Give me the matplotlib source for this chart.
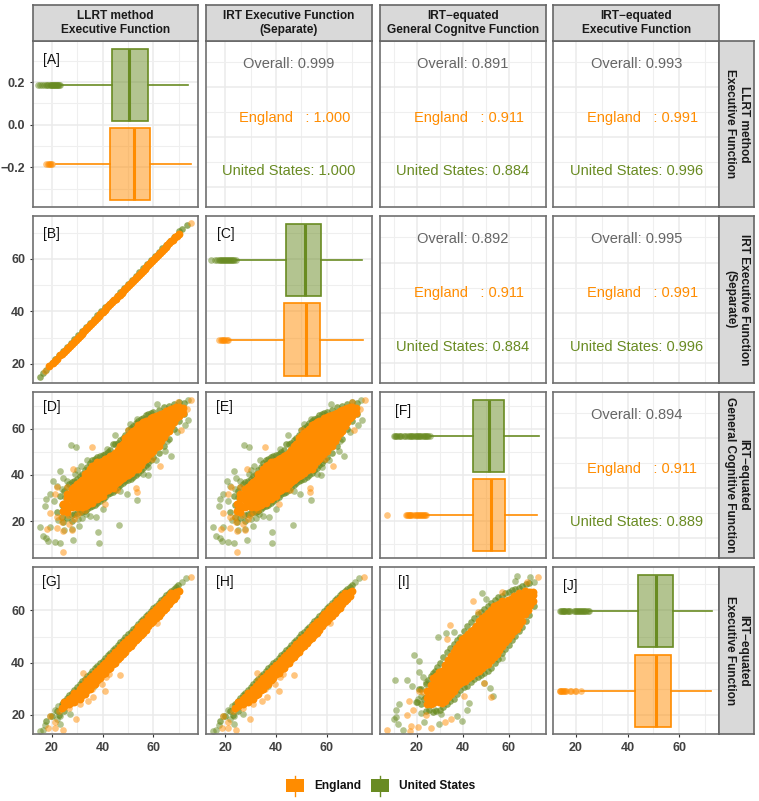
import numpy as np
import matplotlib
matplotlib.use("Agg")
import matplotlib.pyplot as plt
from matplotlib.colors import to_rgba
from matplotlib.patches import Rectangle

plt.rcParams['font.family'] = ['Liberation Sans', 'DejaVu Sans']

ENG = '#FF8C00'
US = '#698B22'

col_titles = ['LLRT method\nExecutive Function', 'IRT Executive Function\n(Separate)',
              'IRT\u2212equated\nGeneral Cognitve Function', 'IRT\u2212equated\nExecutive Function']
row_titles = ['LLRT method\nExecutive Function', 'IRT Executive Function\n(Separate)',
              'IRT\u2212equated\nGeneral Cognitive Function', 'IRT\u2212equated\nExecutive Function']

# correlations: (row, col) -> overall, england, united states
corr = {(0, 1): ['0.999', '1.000', '1.000'],
        (0, 2): ['0.891', '0.911', '0.884'],
        (0, 3): ['0.993', '0.991', '0.996'],
        (1, 2): ['0.892', '0.911', '0.884'],
        (1, 3): ['0.995', '0.991', '0.996'],
        (2, 3): ['0.894', '0.911', '0.889']}

# boxplots: low whisker, q1, median, q3, high whisker, outliers
box_a_us = [22.6, 43.6, 50.4, 57.7, 73.7, [14.8, 15.6, 16.4, 17.2, 18, 18.4, 18.8, 19.2, 19.6, 19.9, 20.2, 20.5, 20.8, 21.1, 21.4, 21.7, 22, 22.3, 22.6, 23, 23.3]]
box_a_eng = [21.7, 42.9, 52.2, 58.5, 74.8, [17.8, 18.5, 18.9, 19.2, 19.6, 20]]
box_c_us = [24.2, 43.9, 51.2, 57.7, 73.7, [14.5, 16, 16.8, 17.6, 18, 18.4, 18.8, 19.2, 19.6, 20, 20.4, 20.8, 21.2, 21.6, 22, 22.4, 22.8, 23.2, 23.6, 24.2]]
box_c_eng = [21.7, 43, 51.6, 57.4, 74, [17.4, 18.2, 18.6, 19, 19.4, 19.8, 20.8, 21.3]]
box_f_us = [25.6, 44.5, 51.5, 57.8, 73.1, [10.2, 10.6, 11, 11.5, 12, 12.5, 13, 14.5, 15, 15.5, 16.5, 17, 17.5, 18, 18.5, 19, 19.5, 20, 20.5, 21, 21.5, 22, 22.5, 23, 23.5, 24, 24.5, 25, 25.6]]
box_f_eng = [24.1, 44.3, 52.2, 58.5, 72.4, [6.8, 15.3, 15.7, 16, 16.4, 16.8, 17.2, 17.6, 18.2, 19.4, 19.8, 20.2, 20.6, 21, 21.4, 21.8, 22.2, 22.6, 23, 23.4, 24.1]]
box_j_us = [25.2, 44, 51.2, 57.5, 72.6, [13.7, 14.1, 14.5, 14.9, 15.3, 15.6, 16, 16.5, 17, 17.4, 17.8, 19.2, 19.6, 20, 20.4, 20.8, 21.2, 21.6, 22, 22.4, 22.8, 23.2, 23.6, 24, 24.6, 25.2]]
box_j_eng = [21.9, 42.8, 51, 56.9, 72.4, [13.7, 14, 14.3, 14.6, 15, 15.3, 15.7, 16.4, 17.8, 18.2, 19.6, 20.2, 21.9]]

# panel B, one ridge along the diagonal
b_eng_x = [19, 20.5, 22, 23.5, 25, 26.5, 28, 29.5, 31, 32.5, 34, 35.5, 37, 38.5, 40, 41.5, 43, 44.5,
           46, 47.5, 49, 50.5, 52, 53.5, 55, 56.5, 58, 59.5, 61, 62.5, 64, 65.5, 67, 68.5, 70]
b_eng_y = [19, 20.2, 21.8, 23.2, 24.7, 26.2, 27.7, 29.2, 30.7, 32.2, 33.6, 35.2, 36.7, 38.2, 39.7, 41.2, 42.7, 44.2,
           45.7, 47.2, 48.7, 50.2, 51.7, 53.2, 54.7, 56.2, 57.7, 59.2, 60.7, 62.2, 63.7, 65.2, 66.7, 68.2, 69.6]
b_eng_x2 = [21.2, 24.2, 25.8, 27.2, 28.8, 30.2, 31.8, 33.2, 34.8, 36.2, 37.8, 39.2, 40.8, 42.2, 43.8, 45.2, 46.8,
            48.2, 49.8, 51.2, 52.8, 54.2, 55.8, 57.2, 58.8, 60.2, 61.8, 63.2, 64.8, 66.2, 67.8, 69.2]
b_eng_y2 = [20.9, 23.9, 25.4, 26.9, 28.4, 29.9, 31.4, 32.9, 34.4, 35.9, 37.4, 38.9, 40.4, 41.9, 43.4, 44.9, 46.4,
            47.9, 49.4, 50.9, 52.4, 53.9, 55.4, 56.9, 58.4, 59.9, 61.4, 62.9, 64.4, 65.9, 67.4, 68.9]
b_us_x = [15.4, 16.5, 17.8, 20, 21.5, 23, 24.5, 26, 27.5, 29, 30.5, 32, 33.5, 35, 36.5, 38, 39.5, 41, 42.5, 44, 45.5, 47, 48.5, 50,
          51.5, 53, 54.5, 56, 57.5, 59, 60.5, 62, 63.5, 65, 66.5, 68, 70, 71.2, 73]
b_us_y = [14.9, 16.4, 17.5, 20.3, 21.9, 23.4, 25, 26.5, 28, 29.5, 31, 32.5, 34, 35.5, 37, 38.5, 40, 41.5, 43, 44.5, 46, 47.5, 49, 50.5,
          52, 53.5, 55, 56.5, 58, 59.5, 61, 62.5, 64, 65.5, 67, 68.5, 70.6, 71.3, 72.8]
b_eng_far_x = [74.6, 17.6]
b_eng_far_y = [73.7, 17.2]

# panels D and E: England mass, one column of y values per x
d_eng_core = {24.5: [24.5, 27.5], 26: [24, 27, 30, 32], 28: [26, 29, 32, 34], 29: [27, 30, 33, 35],
              30: [26, 28.5, 31, 33.5, 36], 31: [27, 29.5, 32, 34.5, 37], 32: [26, 28.5, 31, 33.5, 36, 38],
              33: [26.5, 29, 31.5, 34, 36.5, 39, 40.5], 34: [27, 29.5, 32, 34.5, 37, 39.5, 41],
              35: [28, 30.5, 33, 35.5, 38, 40.5, 42.5], 36: [28, 30.5, 33, 35.5, 38, 40.5, 43, 44],
              37: [29.5, 32, 34.5, 37, 39.5, 42, 44.5], 38: [29.5, 32, 34.5, 37, 39.5, 42, 44.5, 45.5],
              39: [30.5, 33, 35.5, 38, 40.5, 43, 45.5], 40: [31, 33.5, 36, 38.5, 41, 43.5, 46],
              41: [33, 35.5, 38, 40.5, 43, 45.5, 47], 42: [33.5, 36, 38.5, 41, 43.5, 46, 47.5],
              43: [34.5, 37, 39.5, 42, 44.5, 47, 48], 44: [34.5, 37, 39.5, 42, 44.5, 47, 48.5],
              45: [36, 38.5, 41, 43.5, 46, 48.5, 49.5], 46: [37, 39.5, 42, 44.5, 47, 49.5, 51],
              47: [38, 40.5, 43, 45.5, 48, 50.5, 52.5], 48: [38.5, 41, 43.5, 46, 48.5, 51, 53.5],
              49: [39.5, 42, 44.5, 47, 49.5, 52, 54.5, 56], 50: [40, 42.5, 45, 47.5, 50, 52.5, 55, 57],
              51: [41, 43.5, 46, 48.5, 51, 53.5, 56, 58], 52: [42, 44.5, 47, 49.5, 52, 54.5, 57, 59],
              53: [42.5, 45, 47.5, 50, 52.5, 55, 57.5, 60], 54: [42.5, 45, 47.5, 50, 52.5, 55, 57.5, 60, 61.5],
              55: [44.5, 47, 49.5, 52, 54.5, 57, 59.5, 62], 56: [46, 48.5, 51, 53.5, 56, 58.5, 61, 63],
              57: [47, 49.5, 52, 54.5, 57, 59.5, 62, 63.5], 58: [48.5, 51, 53.5, 56, 58.5, 61, 63.5],
              59: [49.5, 52, 54.5, 57, 59.5, 62, 64.5], 60: [50.5, 53, 55.5, 58, 60.5, 63, 65],
              61: [52, 54.5, 57, 59.5, 62, 64.5, 65.5], 62: [52.5, 55, 57.5, 60, 62.5, 65, 66],
              63: [54.5, 57, 59.5, 62, 64.5, 66.5], 64: [56.5, 59, 61.5, 64, 66.5, 67],
              65: [58, 60.5, 63, 65.5, 67.5], 66: [59, 61.5, 64, 66.5, 68], 67: [61, 63.5, 66, 68.5],
              68: [63, 65.5, 68, 69], 69: [64.5, 67, 69.5], 70: [65.5, 68, 69.5], 71.5: [67, 69]}
d_us_edge = [(26, 35), (27, 36), (28, 37), (29, 37.5), (30, 38.3), (31, 39.5), (32, 40.3), (33, 42), (34, 43.3), (35, 45), (36, 46.3),
             (37, 47), (38, 47.8), (39, 48.2), (40, 48.8), (41, 49.2), (42, 49.8), (43, 51), (44, 53.3), (45, 53.5), (46, 53.8), (47, 55),
             (48, 55.8), (49, 57.5), (50, 59.3), (51, 60.3), (52, 61.3), (53, 62.5), (54, 63.3), (55, 64), (56, 64.8), (57, 65.8),
             (58, 66.3), (59, 66.8), (60, 67.3), (62, 68.3), (64, 69.3), (66, 69.8), (68, 70.5), (70, 71.5), (72, 71),
             (26, 21.5), (28, 22.7), (29, 23.2), (30, 23.7), (31, 23.8), (32, 24.2), (33, 24.6), (34, 25.2), (35, 26), (36, 26.7), (37, 27.2),
             (38, 27.7), (39, 28.6), (40, 29.7), (41, 30.7), (42, 31.7), (43, 32.2), (44, 32.7), (45, 33.7), (46, 34.7), (47, 35.7),
             (48, 36.7), (49, 37.2), (50, 37.7), (51, 38.4), (52, 39.2), (53, 39.9), (54, 40.7), (55, 42), (56, 43.2), (57, 44.2),
             (58, 45.2), (59, 46.5), (60, 47.7), (62, 49.7), (64, 52.7), (66, 55.7), (68, 59.7), (70, 63.2), (72, 66.5),
             (24, 22), (25, 26), (26, 30), (24, 27), (26, 24), (22, 24), (28, 20), (24.6, 19.6), (23.5, 31), (25, 33)]
d_us_far = [(27.6, 52.8), (29.4, 51.9), (31.5, 44.1), (23.4, 41.6), (24.3, 38.8), (20.7, 37.6), (22, 35.4), (19.3, 31.8),
            (18, 29.5), (21, 28.7), (17.4, 26.5), (15.4, 17.7), (16.5, 13.8), (18.7, 11.6), (21.3, 10.9), (23.3, 10.5),
            (28.5, 11.9), (38.3, 15.5), (38.6, 10.6), (46.6, 18.6), (33.5, 23.2), (37.4, 21.7), (30.9, 18.1), (27.9, 16.7),
            (49.5, 31.8), (53.7, 29.2), (57.7, 39.8), (66.8, 48.4), (64.6, 50.2), (73.7, 63.6), (72.4, 61.4), (73.5, 72.5),
            (61.5, 70.8), (50.8, 62.1), (53.7, 64.3), (44.9, 57.1), (41.6, 51.3), (33.8, 46.3), (29.2, 40.5), (65.2, 54.9),
            (69.1, 58.5), (25.9, 24.6), (25.2, 30.4), (19.2, 17.4), (17.9, 12.6), (22.6, 20.4), (25, 16.4), (30.3, 20.8),
            (35, 22.2), (32, 21.5), (40, 25.5), (58, 43.5), (61, 46.5), (56, 40.5), (47, 33), (30, 42), (26, 37.5), (24, 34)]
d_eng_far = [(28.5, 42.7), (35.7, 52), (22.2, 34.7), (21.3, 32), (19.3, 23.6), (22, 21.7), (18.3, 16.7), (22, 17.1),
             (24.6, 16), (27.9, 16.2), (24.6, 6.7), (26.6, 22.5), (23.9, 21.7), (41, 27.5), (45.6, 33.7), (53.2, 34.4),
             (53.4, 32.6), (62.5, 44.1), (59.3, 47), (70.7, 59.5), (73.1, 68.6), (74.9, 72.2), (69.8, 71.5), (50.1, 59.5),
             (29.2, 26.8), (29.8, 22.5), (26, 35), (25, 28), (27, 19), (29, 21), (24.2, 19.8), (31, 24.2), (33, 25)]

# panels G and H
g_eng_core = {24: [22.8], 25: [23.5, 25], 26: [24.4], 27: [24, 26], 28: [25, 27], 29: [25, 27, 28.5], 30: [26.5, 28.5],
              31: [26, 28, 30], 32: [27.5, 29.5, 31], 33: [28, 30, 32], 34: [29.5, 31.5, 33], 35: [30, 32, 34], 36: [31.5, 33.5, 35],
              37: [32, 34, 36], 38: [33.5, 35.5, 37], 39: [34, 36, 38], 40: [35.5, 37.5, 39], 41: [36, 38, 40], 42: [37.5, 39.5, 41],
              43: [38, 40, 42], 44: [39.5, 41.5, 43], 45: [40, 42, 44], 46: [41.5, 43.5, 45], 47: [42, 44, 46], 48: [43.5, 45.5, 47],
              49: [44, 46, 48], 50: [45.5, 47.5, 49], 51: [46.5, 48.5, 50], 52: [47.5, 49.5, 51], 53: [48.5, 50.5, 52], 54: [49.5, 51.5, 53.5],
              55: [50.5, 52.5, 54.5], 56: [51.5, 53.5, 55.5], 57: [52.5, 54.5, 56], 58: [54, 56, 57.5], 59: [55, 57, 58.5], 60: [56, 58, 59.5],
              61: [57, 59, 60.5], 62: [58, 60, 61.5], 63: [59, 61, 62.5], 64: [60, 62, 63.5], 65: [61, 63, 64.5], 66: [62.5, 64, 65.5],
              67: [63.5, 65, 66.5], 68: [64.5, 66], 69: [65.5, 67], 70: [67.5]}
g_us_edge = [(18, 17.5), (20, 19.5), (22, 21.5), (24, 24), (25, 25.3), (26, 26.5), (27, 27.5), (28, 28.5), (29, 29.6), (30, 30.7), (31, 31.7), (32, 32.8),
             (33, 33.8), (34, 34.8), (35, 35.8), (36, 36.8), (37, 37.8), (38, 38.8), (39, 39.8), (40, 40.8), (41, 41.8), (42, 42.8),
             (43, 43.8), (44, 44.8), (45, 45.8), (46, 46.8), (47, 47.8), (48, 48.8), (49, 49.8), (50, 50.8), (51, 51.8), (52, 52.8),
             (53, 53.8), (54, 54.8), (55, 55.8), (56, 56.8), (57, 57.8), (58, 58.8), (59, 59.8), (60, 60.8), (61, 61.8), (62, 62.8),
             (63, 63.8), (64, 64.8), (65, 65.8), (66, 66.8), (67, 67.5), (68, 68.3), (69, 69), (69.8, 69.8), (38.3, 33.2), (53.4, 49.2),
             (23, 20), (25, 21.5)]
g_us_far = [(15.4, 14), (17.4, 16.2), (16.5, 14.4), (19.3, 19.7), (21.3, 21.7), (22.6, 23.3), (23.3, 19.7), (27.2, 20.4),
            (23.5, 16.5), (72.8, 72.3), (71.1, 71), (36.8, 31.2), (24.5, 24.5), (22, 18.6)]
g_eng_far = [(74.6, 72.6), (46.9, 35.1), (61.3, 55.3), (41, 29), (42.7, 35.8), (41.4, 34.5), (32.5, 36.2), (33.1, 33.2),
             (36.4, 26.8), (34.4, 25.5), (31.1, 24.2), (35.7, 30), (29.6, 18.5), (24.3, 14.2), (21.3, 14.9), (18.7, 14.9),
             (21.3, 17.4), (19.3, 19.7), (39.7, 31.9), (38.3, 35.1), (42.3, 37.7), (23, 21.4), (27, 22.6)]

# panel I
i_eng_core = {24.5: [24, 26.5, 29], 26: [24, 26.5, 29, 31.5], 27.25: [24.5, 27, 29.5, 32, 34], 28.5: [25.5, 28, 30.5, 33, 35],
              29.75: [25, 27.5, 30, 32.5, 35, 36.5], 31: [24.5, 27, 29.5, 32, 34.5, 37], 32.25: [25.5, 28, 30.5, 33, 35.5, 38, 39],
              33.5: [27, 29.5, 32, 34.5, 37, 39.5, 41], 34.75: [28, 30.5, 33, 35.5, 38, 40.5, 42.5], 36: [29, 31.5, 34, 36.5, 39, 41.5, 44],
              37.25: [30.5, 33, 35.5, 38, 40.5, 43, 45.5], 38.5: [32, 34.5, 37, 39.5, 42, 44.5, 47], 39.75: [32.5, 35, 37.5, 40, 42.5, 45, 47.5, 49],
              41: [33, 35.5, 38, 40.5, 43, 45.5, 48, 50], 42.25: [34, 36.5, 39, 41.5, 44, 46.5, 49, 51], 43.5: [35, 37.5, 40, 42.5, 45, 47.5, 50, 52],
              44.75: [36, 38.5, 41, 43.5, 46, 48.5, 51, 53], 46: [36.5, 39, 41.5, 44, 46.5, 49, 51.5, 54], 47.25: [37, 39.5, 42, 44.5, 47, 49.5, 52, 54.5, 56],
              48.5: [38, 40.5, 43, 45.5, 48, 50.5, 53, 55.5, 57], 49.75: [39, 41.5, 44, 46.5, 49, 51.5, 54, 56.5, 58],
              51: [39.5, 42, 44.5, 47, 49.5, 52, 54.5, 57, 59], 52.25: [41, 43.5, 46, 48.5, 51, 53.5, 56, 58.5, 60],
              53.5: [42, 44.5, 47, 49.5, 52, 54.5, 57, 59.5, 61.5], 54.75: [43.5, 46, 48.5, 51, 53.5, 56, 58.5, 61, 62],
              56: [45, 47.5, 50, 52.5, 55, 57.5, 60, 62.5], 57.25: [46.5, 49, 51.5, 54, 56.5, 59, 61.5, 63.5],
              58.5: [48, 50.5, 53, 55.5, 58, 60.5, 63], 59.75: [49, 51.5, 54, 56.5, 59, 61.5, 64], 61: [50.5, 53, 55.5, 58, 60.5, 63, 64.5],
              62.25: [52, 54.5, 57, 59.5, 62, 64.5, 65.5], 63.5: [53, 55.5, 58, 60.5, 63, 65.5], 64.75: [54.5, 57, 59.5, 62, 64.5, 66.5],
              66: [56, 58.5, 61, 63.5, 66], 67.25: [58.5, 61, 63.5, 66, 67.5], 68.5: [60, 62.5, 65, 67], 69.5: [62, 64.5, 67], 70.5: [63.5, 66, 67]}
i_us_edge = [(22, 30), (24, 32), (25, 33.5), (26, 35), (27, 36), (28, 37), (29, 38.5), (30, 40), (31.5, 42), (33, 44), (34.5, 45.5), (36, 47), (37.5, 48.5), (39, 50),
             (40.5, 52), (42, 54), (43.5, 55.5), (45, 57), (46.5, 58.5), (48, 59.5), (49.5, 60.5), (51, 61.5), (52.5, 63), (54, 64), (55.5, 65), (57, 65.7),
             (58.5, 66.5), (60, 67), (61.5, 67.7), (63, 68.2), (64.5, 68.7), (66, 69.3), (67.5, 70), (69, 70.3),
             (24, 21.5), (25.5, 21.7), (27, 21.3), (28.5, 21.5), (30, 21.7), (31.5, 23), (33, 24), (34.5, 25.3), (36, 26.2), (37.5, 28), (39, 29.7),
             (40.5, 30.5), (42, 31.2), (43.5, 32.5), (45, 33.7), (46.5, 34.5), (48, 35.2), (49.5, 36), (51, 36.7), (52.5, 38), (54, 39.7),
             (55.5, 41.5), (57, 43.7), (58.5, 45.3), (60, 46.7), (61.5, 48.5), (63, 50.2), (64.5, 52), (66, 53.7), (67.5, 56), (69, 58.2), (71, 61.5),
             (20, 25), (22, 24), (24, 27), (21, 30), (23, 26)]
i_us_far = [(10.5, 33.2), (15.6, 33.2), (18, 30.9), (18.7, 43.1), (20.9, 40.5), (20.9, 36.4), (29.2, 50), (32.9, 51.2),
            (36.3, 51.8), (48.5, 66.5), (50, 64.4), (63.6, 73), (62.6, 71.3), (69.2, 72.7), (71, 70.8), (57, 41.8), (53, 27.2),
            (51.9, 30.4), (49.4, 32.3), (12, 24.2), (11, 21.7), (11, 19.1), (9.9, 18.5), (11.9, 16.5), (13.9, 14.2), (19.7, 24.9),
            (20.4, 26.2), (21.9, 20.8), (23.1, 17.2), (29.5, 16.5), (37.3, 19.7), (41.7, 21.7), (42.7, 24.6), (39.5, 17.6),
            (30.7, 20.4), (27.8, 21.7), (21.9, 27.4), (24.1, 32.6), (22.6, 34.5)]
i_eng_far = [(44.3, 63.6), (34.3, 54.4), (33.3, 49.2), (20.9, 29.1), (16.5, 25.5), (15.8, 20), (18.2, 21.7), (6.8, 14.2),
             (16.8, 14), (17.5, 15.9), (20.4, 15.5), (23.8, 20.1), (26, 14.9), (32.2, 17.4), (34.8, 18.5), (40.6, 27.4),
             (49.4, 32.3), (52.2, 26.8), (68, 70.8), (73, 72.6), (57.3, 66.9), (46.7, 59.5), (22.6, 28.7)]

panel_tags = {(0, 0): '[A]', (1, 0): '[B]', (1, 1): '[C]', (2, 0): '[D]', (2, 1): '[E]', (2, 2): '[F]',
              (3, 0): '[G]', (3, 1): '[H]', (3, 2): '[I]', (3, 3): '[J]'}
tag_pos = {(0, 0): (.062, .886), (1, 0): (.06, .89), (1, 1): (.066, .89), (2, 0): (.06, .91), (2, 1): (.06, .91),
           (2, 2): (.09, .882), (3, 0): (.055, .91), (3, 1): (.06, .91), (3, 2): (.11, .91), (3, 3): (.06, .89)}

W, H = 759, 801
col_px = [(32.7, 198.3), (206.3, 371.7), (379.7, 545.7), (553.3, 719.3)]
row_px = [(40.7, 207.3), (215.7, 383), (391.7, 558.3), (567.3, 734)]
xlims = [(12.6, 77.6), (12.6, 77.6), (3.8, 76.2), (11.3, 75.5)]
ylims = [(-0.388, 0.395), (12.7, 76.5), (4, 76), (12.7, 76.5)]

fig = plt.figure(figsize=(W / 100, H / 100), dpi=100, facecolor='white')


def px_axes(x0, y0, x1, y1, **kw):
    return fig.add_axes([x0 / W, 1 - y1 / H, (x1 - x0) / W, (y1 - y0) / H], **kw)


def flatten(cols):
    xs, ys = [], []
    for x, vals in cols.items():
        xs += [x] * len(vals)
        ys += vals
    return xs, ys


def pts(ax, pairs, color, alpha, s=23):
    arr = np.array(pairs)
    ax.scatter(arr[:, 0], arr[:, 1], s=s, color=color, alpha=alpha, linewidths=0)


def cloud(ax, us_edge, us_far, eng_core, eng_far):
    pts(ax, us_far, US, 0.5)
    pts(ax, us_edge, US, 0.7)
    xs, ys = flatten(eng_core)
    ax.scatter(xs, ys, s=32, color=ENG, linewidths=0)
    pts(ax, eng_far, ENG, 0.5)


def boxes(ax, us_box, eng_box):
    y0, y1 = ax.get_ylim()
    span = y1 - y0
    for b, c, f in [(us_box, US, .735), (eng_box, ENG, .26)]:
        stat = dict(whislo=b[0], q1=b[1], med=b[2], q3=b[3], whishi=b[4], fliers=b[5])
        ax.bxp([stat], positions=[y0 + f * span], widths=[.432 * span], orientation='horizontal',
               patch_artist=True, showcaps=False, manage_ticks=False,
               boxprops=dict(facecolor=to_rgba(c, .5), edgecolor=c, linewidth=1.2),
               medianprops=dict(color=c, linewidth=2.2),
               whiskerprops=dict(color=c, linewidth=1.2),
               flierprops=dict(marker='o', markersize=4.8, markerfacecolor=c, markeredgecolor='none', alpha=.5))


for r in range(4):
    for c in range(4):
        ax = px_axes(col_px[c][0], row_px[r][0], col_px[c][1], row_px[r][1])
        ax.set_xlim(xlims[c])
        ax.set_xticks([20, 40, 60])
        ax.set_xticks([10, 30, 50, 70] if c == 2 else [30, 50, 70], minor=True)
        if c > r:
            # correlation text panels have their own vertical scale
            ax.set_ylim(0, 1)
            ax.set_yticks([.12, .42, .72])
            ax.set_yticks([.27, .57, .87], minor=True)
        else:
            ax.set_ylim(ylims[r])
            if r == 0:
                ax.set_yticks([-.2, 0, .2])
                ax.set_yticklabels(['\u22120.2', '0.0', '0.2'])
                ax.set_yticks([-.3, -.1, .1, .3], minor=True)
            else:
                ax.set_yticks([20, 40, 60])
                ax.set_yticks([10, 30, 50, 70] if r == 2 else [30, 50, 70], minor=True)
        ax.grid(True, which='major', color='#EBEBEB', linewidth=1.1)
        ax.grid(True, which='minor', color='#EFEFEF', linewidth=0.8)
        ax.set_axisbelow(True)
        ax.tick_params(which='minor', length=0)
        ax.tick_params(which='major', length=2.5, width=0.8, color='#333333',
                       bottom=r == 3, left=c == 0, labelbottom=r == 3, labelleft=c == 0,
                       labelsize=9, labelcolor='#404040', pad=3)
        for lab in ax.get_xticklabels() + ax.get_yticklabels():
            lab.set_fontweight('bold')
        for sp in ax.spines.values():
            sp.set_color('#707070')
            sp.set_linewidth(1.2)

        if (r, c) in corr:
            vals = corr[(r, c)]
            tr = ax.transAxes
            ax.text(.5, .862, 'Overall: ' + vals[0], color='#666666', transform=tr, ha='center', va='center', fontsize=10.5)
            ax.text(.535, .539, 'England   : ' + vals[1], color=ENG, transform=tr, ha='center', va='center', fontsize=10.5)
            ax.text(.5, .216, 'United States: ' + vals[2], color=US, transform=tr, ha='center', va='center', fontsize=10.5)
        elif (r, c) == (0, 0):
            boxes(ax, box_a_us, box_a_eng)
        elif (r, c) == (1, 1):
            boxes(ax, box_c_us, box_c_eng)
        elif (r, c) == (2, 2):
            boxes(ax, box_f_us, box_f_eng)
        elif (r, c) == (3, 3):
            boxes(ax, box_j_us, box_j_eng)
        elif (r, c) == (1, 0):
            ax.scatter(b_us_x, b_us_y, s=23, color=US, alpha=.7, linewidths=0)
            ax.scatter(b_eng_x, b_eng_y, s=32, color=ENG, linewidths=0)
            ax.scatter(b_eng_x2, b_eng_y2, s=32, color=ENG, linewidths=0)
            ax.scatter(b_eng_far_x, b_eng_far_y, s=23, color=ENG, alpha=.5, linewidths=0)
        elif r == 2:
            cloud(ax, d_us_edge, d_us_far, d_eng_core, d_eng_far)
        elif r == 3 and c < 2:
            cloud(ax, g_us_edge, g_us_far, g_eng_core, g_eng_far)
        elif (r, c) == (3, 2):
            cloud(ax, i_us_edge, i_us_far, i_eng_core, i_eng_far)

        if (r, c) in panel_tags:
            tx, ty = tag_pos[(r, c)]
            ax.text(tx, ty, panel_tags[(r, c)], transform=ax.transAxes, ha='left', va='center', fontsize=10, color='#111111')

# facet strips
for c in range(4):
    ax = px_axes(col_px[c][0], 5, col_px[c][1], row_px[0][0], facecolor='#D9D9D9', xticks=[], yticks=[])
    for sp in ax.spines.values():
        sp.set_color('#666666')
        sp.set_linewidth(1.2)
    ax.text(.5, .5, col_titles[c], transform=ax.transAxes, ha='center', va='center', fontsize=8.6,
            fontweight='bold', color='#1A1A1A', linespacing=1.2)
for r in range(4):
    ax = px_axes(719.3, row_px[r][0], 754.3, row_px[r][1], facecolor='#D9D9D9', xticks=[], yticks=[])
    for sp in ax.spines.values():
        sp.set_color('#666666')
        sp.set_linewidth(1.2)
    ax.text(.5, .5, row_titles[r], transform=ax.transAxes, ha='center', va='center', rotation=-90, fontsize=8.6,
            fontweight='bold', color='#1A1A1A', linespacing=1.2)

# legend at the bottom, laid out in pixels
leg = px_axes(0, 0, W, H, facecolor='none', xlim=(0, W), ylim=(H, 0))
leg.axis('off')
for x0, colr, name, tx in [(285.7, ENG, 'England', 314), (370.7, US, 'United States', 399)]:
    leg.plot([x0 + 9.3, x0 + 9.3], [776, 795.7], color=colr, linewidth=1.0)
    leg.add_patch(Rectangle((x0, 779), 18.6, 13.3, facecolor=colr, edgecolor='none'))
    leg.text(tx, 785.7, name, fontsize=8.6, fontweight='bold', va='center', ha='left', color='#111111')

fig.savefig('out.png', dpi=100)
